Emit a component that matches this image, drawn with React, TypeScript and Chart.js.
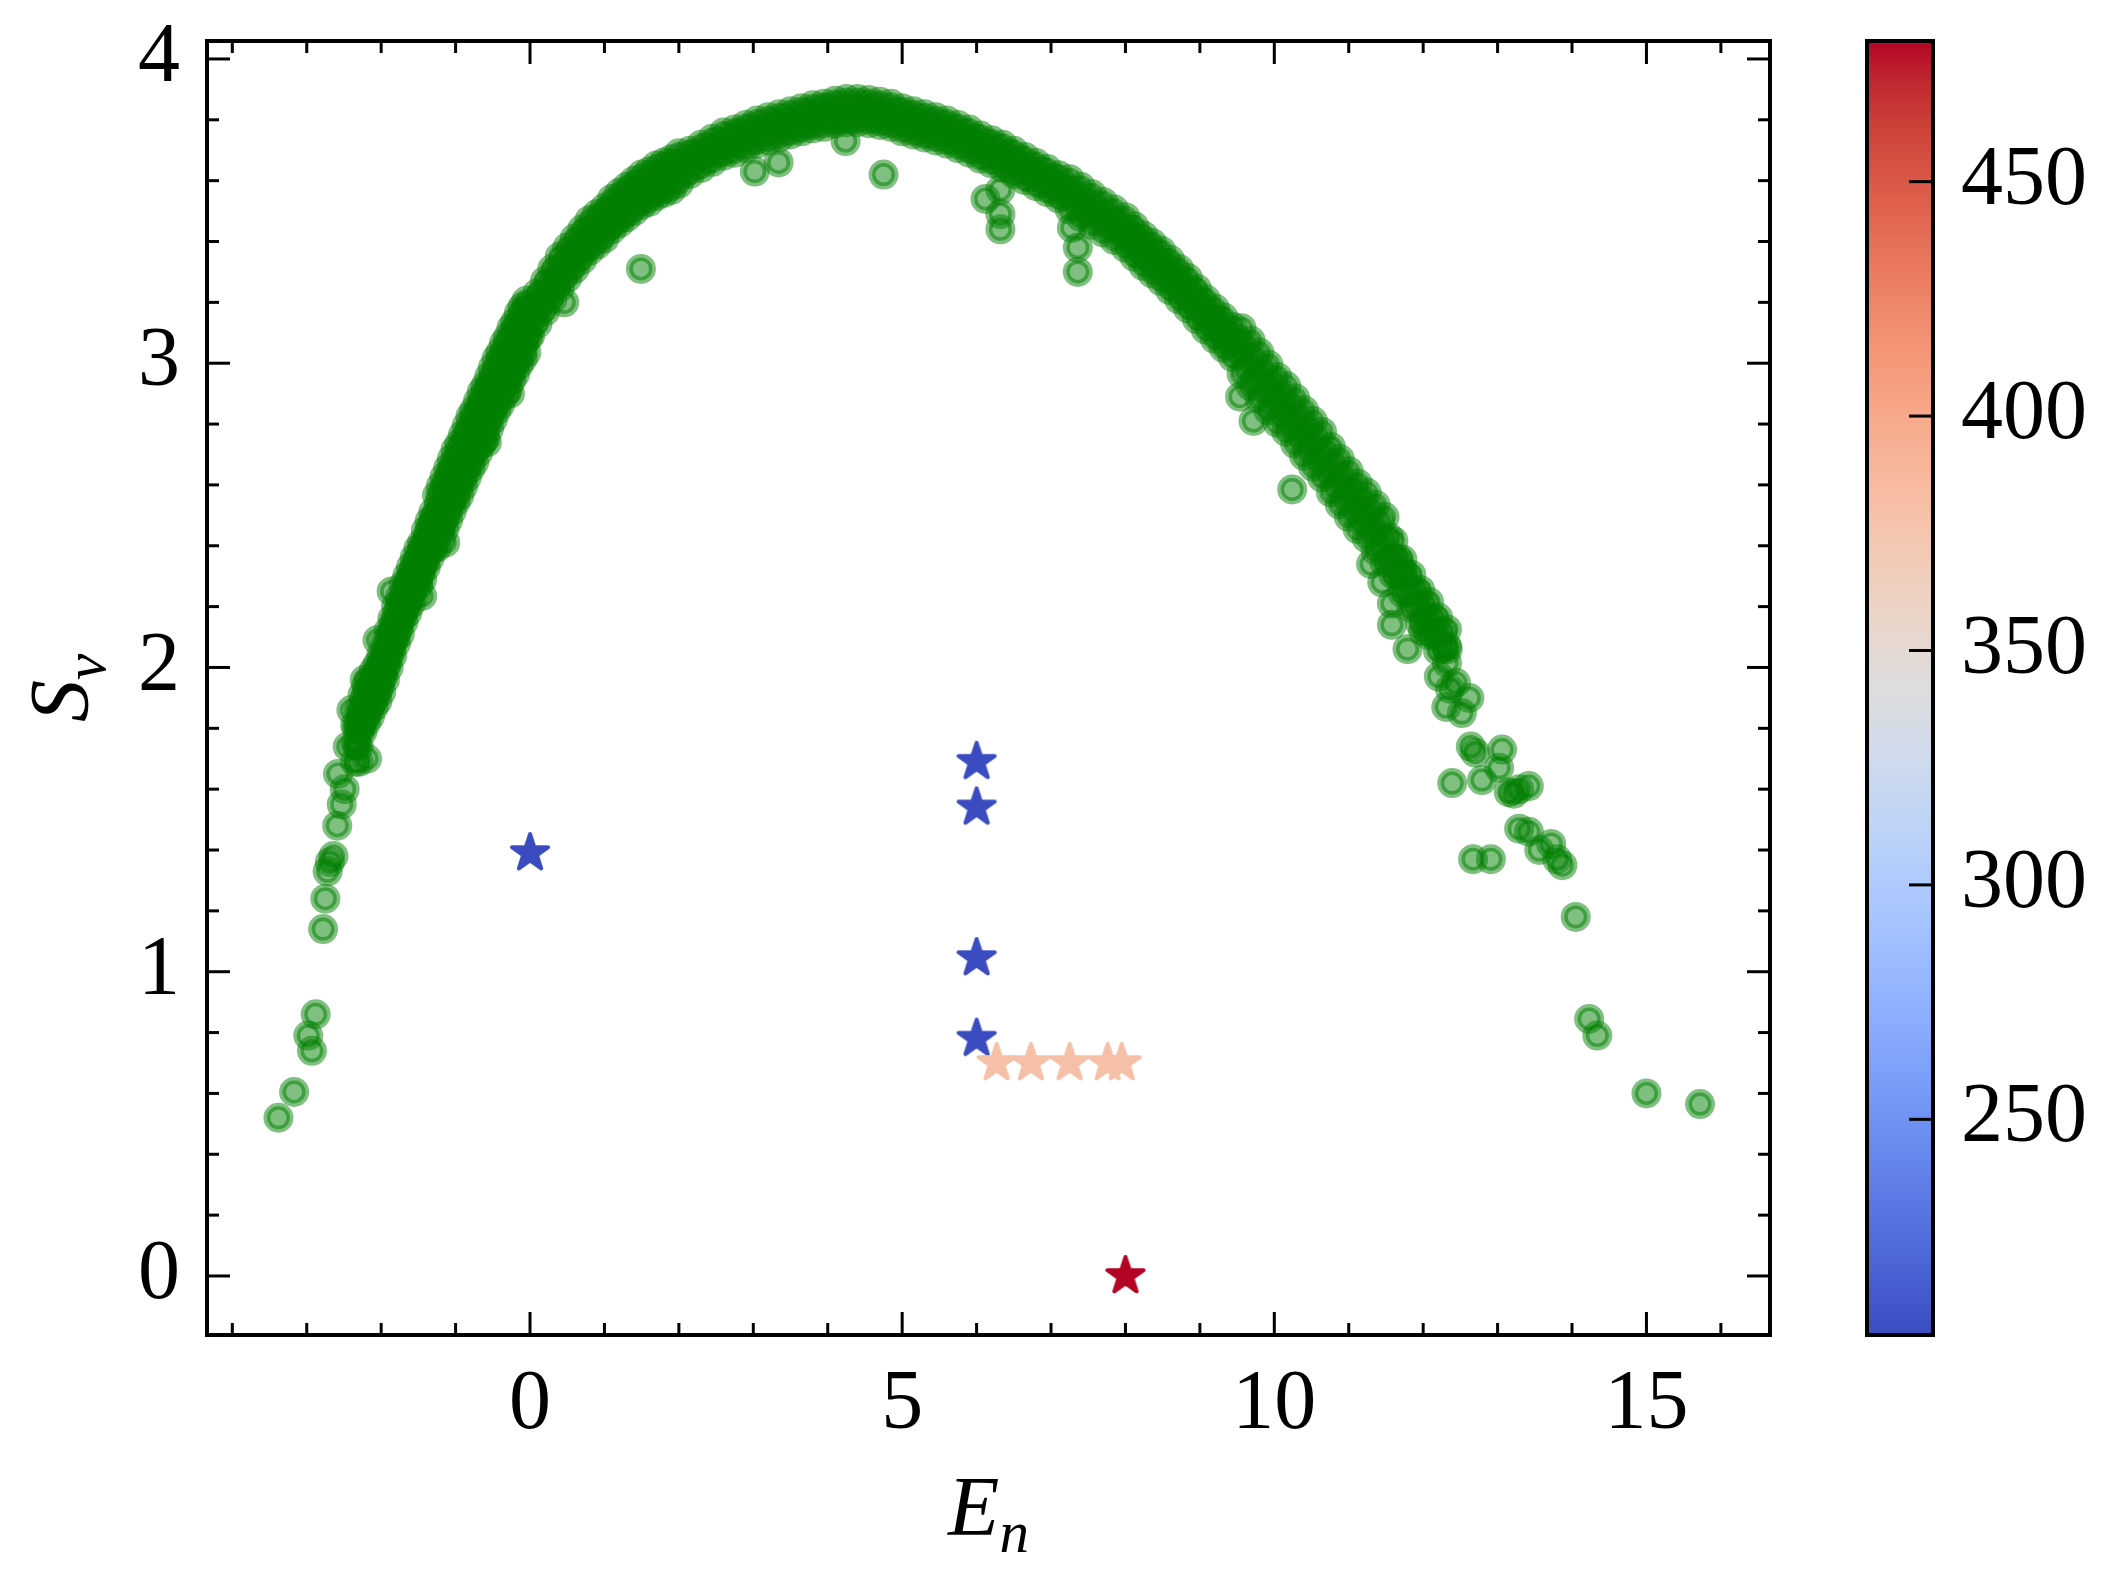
import { useEffect, useRef } from "react";
import { Chart, registerables } from "chart.js";

Chart.register(...registerables);

// axis ticks
const X_TICKS = [0, 5, 10, 15];
const Y_TICKS = [0, 1, 2, 3, 4];
const CB_TICKS = [250, 300, 350, 400, 450];

// dense band of (E_n, S_v) points: same E, an upper, middle and lower row
const BAND_E = [
  -2.35, -2.3, -2.25, -2.2, -2.15, -2.1, -2.05, -2.0, -1.95, -1.9, -1.85, -1.8, -1.75, -1.7, -1.65, -1.6, -1.55, -1.5, -1.45, -1.4, -1.35, -1.3,
  -1.25, -1.2, -1.15, -1.1, -1.05, -1.0, -0.95, -0.9, -0.85, -0.8, -0.75, -0.7, -0.65, -0.6, -0.55, -0.5, -0.45, -0.4, -0.35, -0.3, -0.25, -0.2, -0.15, -0.1, -0.05,
  0, 0.1, 0.2, 0.3, 0.4, 0.5, 0.6, 0.7, 0.8, 0.9, 1.0, 1.1, 1.2, 1.3, 1.4, 1.5, 1.6, 1.7, 1.8, 1.9, 2.0,
  2.15, 2.3, 2.45, 2.6, 2.75, 2.9, 3.05, 3.2, 3.35, 3.5, 3.65, 3.8, 3.95, 4.1, 4.25, 4.4, 4.55, 4.7, 4.85, 5.0, 5.15, 5.3, 5.45, 5.6, 5.75, 5.9, 6.05, 6.2, 6.35, 6.5, 6.65, 6.8, 6.95, 7.1,
  7.25, 7.4, 7.55, 7.7, 7.85, 8.0, 8.12, 8.24, 8.36, 8.48, 8.6, 8.72, 8.84, 8.96, 9.08, 9.2, 9.32, 9.44,
  9.56, 9.68, 9.8, 9.92, 10.04, 10.16, 10.28, 10.4, 10.52, 10.64, 10.76, 10.88, 11.0, 11.12, 11.24, 11.36, 11.48,
  11.6, 11.72, 11.84, 11.96, 12.08, 12.2, 12.32,
];
const BAND_S_UPPER = [
  1.81, 1.86, 1.91, 1.94, 1.96, 1.99, 2.01, 2.04, 2.08, 2.12, 2.16, 2.20, 2.23, 2.27, 2.30, 2.33, 2.36, 2.39, 2.41, 2.45, 2.48, 2.51,
  2.565, 2.595, 2.625, 2.655, 2.685, 2.715, 2.735, 2.765, 2.795, 2.825, 2.845, 2.875, 2.905, 2.925, 2.955, 2.985, 3.015, 3.035, 3.065, 3.085, 3.115, 3.135, 3.165, 3.185, 3.205,
  3.19, 3.23, 3.27, 3.31, 3.35, 3.38, 3.41, 3.44, 3.47, 3.49, 3.51, 3.54, 3.56, 3.58, 3.60, 3.62, 3.63, 3.65, 3.66, 3.67, 3.69,
  3.698, 3.718, 3.738, 3.758, 3.768, 3.783, 3.798, 3.808, 3.818, 3.828, 3.838, 3.848, 3.853, 3.863, 3.868, 3.868, 3.865, 3.859, 3.853, 3.838, 3.828, 3.818, 3.808, 3.798, 3.783, 3.768, 3.748, 3.733, 3.718, 3.698, 3.678, 3.658, 3.638, 3.618,
  3.605, 3.58, 3.555, 3.53, 3.505, 3.48, 3.45, 3.42, 3.395, 3.37, 3.34, 3.31, 3.28, 3.245, 3.21, 3.18, 3.15, 3.12,
  3.115, 3.075, 3.035, 2.995, 2.955, 2.925, 2.885, 2.845, 2.81, 2.775, 2.725, 2.685, 2.645, 2.605, 2.575, 2.535, 2.495,
  2.415, 2.355, 2.305, 2.255, 2.215, 2.165, 2.125,
];
const BAND_S_MID = [
  1.75, 1.80, 1.85, 1.88, 1.90, 1.93, 1.95, 1.98, 2.02, 2.06, 2.10, 2.14, 2.17, 2.21, 2.24, 2.27, 2.30, 2.33, 2.35, 2.39, 2.42, 2.45,
  2.48, 2.51, 2.54, 2.57, 2.60, 2.63, 2.65, 2.68, 2.71, 2.74, 2.76, 2.79, 2.82, 2.84, 2.87, 2.90, 2.93, 2.95, 2.98, 3.00, 3.03, 3.05, 3.08, 3.10, 3.12,
  3.14, 3.18, 3.22, 3.26, 3.30, 3.33, 3.36, 3.39, 3.42, 3.44, 3.46, 3.49, 3.51, 3.53, 3.55, 3.57, 3.58, 3.60, 3.61, 3.62, 3.64,
  3.66, 3.68, 3.70, 3.72, 3.73, 3.745, 3.76, 3.77, 3.78, 3.79, 3.80, 3.81, 3.815, 3.825, 3.83, 3.83, 3.827, 3.821, 3.815, 3.80, 3.79, 3.78, 3.77, 3.76, 3.745, 3.73, 3.71, 3.695, 3.68, 3.66, 3.64, 3.62, 3.60, 3.58,
  3.555, 3.53, 3.505, 3.48, 3.455, 3.43, 3.40, 3.37, 3.345, 3.32, 3.29, 3.26, 3.23, 3.195, 3.16, 3.13, 3.10, 3.07,
  3.04, 3.00, 2.96, 2.92, 2.88, 2.85, 2.81, 2.77, 2.735, 2.70, 2.65, 2.61, 2.57, 2.53, 2.50, 2.46, 2.42,
  2.36, 2.30, 2.25, 2.20, 2.16, 2.11, 2.07,
];
const BAND_S_LOWER = [
  1.69, 1.74, 1.79, 1.82, 1.84, 1.87, 1.89, 1.92, 1.96, 2.00, 2.04, 2.08, 2.11, 2.15, 2.18, 2.21, 2.24, 2.27, 2.29, 2.33, 2.36, 2.39,
  2.395, 2.425, 2.455, 2.485, 2.515, 2.545, 2.565, 2.595, 2.625, 2.655, 2.675, 2.705, 2.735, 2.755, 2.785, 2.815, 2.845, 2.865, 2.895, 2.915, 2.945, 2.965, 2.995, 3.015, 3.035,
  3.09, 3.13, 3.17, 3.21, 3.25, 3.28, 3.31, 3.34, 3.37, 3.39, 3.41, 3.44, 3.46, 3.48, 3.50, 3.52, 3.53, 3.55, 3.56, 3.57, 3.59,
  3.622, 3.642, 3.662, 3.682, 3.692, 3.707, 3.722, 3.732, 3.742, 3.752, 3.762, 3.772, 3.777, 3.787, 3.792, 3.792, 3.789, 3.783, 3.777, 3.762, 3.752, 3.742, 3.732, 3.722, 3.707, 3.692, 3.672, 3.657, 3.642, 3.622, 3.602, 3.582, 3.562, 3.542,
  3.505, 3.48, 3.455, 3.43, 3.405, 3.38, 3.35, 3.32, 3.295, 3.27, 3.24, 3.21, 3.18, 3.145, 3.11, 3.08, 3.05, 3.02,
  2.965, 2.925, 2.885, 2.845, 2.805, 2.775, 2.735, 2.695, 2.66, 2.625, 2.575, 2.535, 2.495, 2.455, 2.425, 2.385, 2.345,
  2.305, 2.245, 2.195, 2.145, 2.105, 2.055, 2.015,
];

// second, staggered set of band points between the first ones
const BAND_E_HALF = [
  -2.325, -2.275, -2.225, -2.175, -2.125, -2.075, -2.025, -1.975, -1.925, -1.875, -1.825, -1.775, -1.725, -1.675, -1.625, -1.575, -1.525, -1.475, -1.425, -1.375, -1.325, -1.275,
  -1.225, -1.175, -1.125, -1.075, -1.025, -0.975, -0.925, -0.875, -0.825, -0.775, -0.725, -0.675, -0.625, -0.575, -0.525, -0.475, -0.425, -0.375, -0.325, -0.275, -0.225, -0.175, -0.125, -0.075, -0.025,
  0.05, 0.15, 0.25, 0.35, 0.45, 0.55, 0.65, 0.75, 0.85, 0.95, 1.05, 1.15, 1.25, 1.35, 1.45, 1.55, 1.65, 1.75, 1.85, 1.95, 2.075,
  2.225, 2.375, 2.525, 2.675, 2.825, 2.975, 3.125, 3.275, 3.425, 3.575, 3.725, 3.875, 4.025, 4.175, 4.325, 4.475, 4.625, 4.775, 4.925, 5.075, 5.225, 5.375, 5.525, 5.675, 5.825, 5.975, 6.125, 6.275, 6.425, 6.575, 6.725, 6.875, 7.025, 7.175,
  7.325, 7.475, 7.625, 7.775, 7.925, 8.06, 8.18, 8.30, 8.42, 8.54, 8.66, 8.78, 8.90, 9.02, 9.14, 9.26, 9.38, 9.50,
  9.62, 9.74, 9.86, 9.98, 10.10, 10.22, 10.34, 10.46, 10.58, 10.70, 10.82, 10.94, 11.06, 11.18, 11.30, 11.42, 11.54,
  11.66, 11.78, 11.90, 12.02, 12.14, 12.26,
];
const BAND_S_HALF_UPPER = [
  1.805, 1.855, 1.895, 1.92, 1.945, 1.97, 1.995, 2.03, 2.07, 2.11, 2.15, 2.185, 2.22, 2.255, 2.285, 2.315, 2.345, 2.37, 2.40, 2.435, 2.465, 2.495,
  2.538, 2.568, 2.598, 2.628, 2.658, 2.683, 2.708, 2.738, 2.768, 2.793, 2.818, 2.848, 2.873, 2.898, 2.928, 2.958, 2.983, 3.008, 3.033, 3.058, 3.083, 3.108, 3.133, 3.153, 3.173,
  3.185, 3.225, 3.265, 3.305, 3.34, 3.37, 3.40, 3.43, 3.455, 3.475, 3.50, 3.525, 3.545, 3.565, 3.585, 3.60, 3.615, 3.63, 3.64, 3.655, 3.675,
  3.689, 3.709, 3.729, 3.744, 3.757, 3.772, 3.784, 3.794, 3.804, 3.814, 3.824, 3.832, 3.839, 3.847, 3.849, 3.848, 3.843, 3.837, 3.827, 3.814, 3.804, 3.794, 3.784, 3.772, 3.757, 3.739, 3.722, 3.707, 3.689, 3.669, 3.649, 3.629, 3.609, 3.587,
  3.568, 3.543, 3.518, 3.493, 3.468, 3.44, 3.41, 3.383, 3.358, 3.33, 3.30, 3.27, 3.238, 3.203, 3.17, 3.14, 3.11, 3.08,
  3.058, 3.018, 2.978, 2.938, 2.903, 2.868, 2.828, 2.791, 2.756, 2.713, 2.668, 2.628, 2.588, 2.553, 2.518, 2.478, 2.428,
  2.358, 2.303, 2.253, 2.208, 2.163, 2.118,
];
const BAND_S_HALF_LOWER = [
  1.745, 1.795, 1.835, 1.86, 1.885, 1.91, 1.935, 1.97, 2.01, 2.05, 2.09, 2.125, 2.16, 2.195, 2.225, 2.255, 2.285, 2.31, 2.34, 2.375, 2.405, 2.435,
  2.452, 2.482, 2.512, 2.542, 2.572, 2.597, 2.622, 2.652, 2.682, 2.707, 2.732, 2.762, 2.787, 2.812, 2.842, 2.872, 2.897, 2.922, 2.947, 2.972, 2.997, 3.022, 3.047, 3.067, 3.087,
  3.135, 3.175, 3.215, 3.255, 3.29, 3.32, 3.35, 3.38, 3.405, 3.425, 3.45, 3.475, 3.495, 3.515, 3.535, 3.55, 3.565, 3.58, 3.59, 3.605, 3.625,
  3.651, 3.671, 3.691, 3.706, 3.719, 3.734, 3.746, 3.756, 3.766, 3.776, 3.786, 3.794, 3.801, 3.809, 3.811, 3.81, 3.805, 3.799, 3.789, 3.776, 3.766, 3.756, 3.746, 3.734, 3.719, 3.701, 3.684, 3.669, 3.651, 3.631, 3.611, 3.591, 3.571, 3.549,
  3.518, 3.493, 3.468, 3.443, 3.418, 3.39, 3.36, 3.333, 3.308, 3.28, 3.25, 3.22, 3.188, 3.153, 3.12, 3.09, 3.06, 3.03,
  2.982, 2.942, 2.902, 2.862, 2.827, 2.792, 2.752, 2.715, 2.68, 2.637, 2.592, 2.552, 2.512, 2.477, 2.442, 2.402, 2.352,
  2.302, 2.247, 2.197, 2.152, 2.107, 2.062,
];

// scattered points off the band
const SCATTER_E = [
  -3.38, -3.17, -2.98, -2.93, -2.88, -2.78, -2.75, -2.72, -2.69, -2.64, -2.59, -2.53, -2.49, -2.58, -2.30, -2.19, -2.45, -2.40, -2.22, -2.05, -1.86, -1.45, -1.14, -0.58, -0.27, 0.46,
  1.49, 3.02, 3.34, 4.75, 4.24,
  6.12, 6.32, 6.32, 6.32, 7.28, 7.36, 7.36,
  9.54, 9.72, 10.24, 11.30, 11.45, 11.58, 11.58, 11.79, 11.72,
  12.00, 12.33, 12.21, 12.44, 12.36, 12.31, 12.52, 12.62,
  12.39, 12.64, 12.70, 12.79, 13.02, 13.06,
  13.15, 13.22, 13.29, 13.42,
  13.29, 13.42, 13.56, 13.72, 13.80, 13.87,
  12.67, 12.91,
  14.05, 14.23, 14.34,
  15.00, 15.72,
];
const SCATTER_S = [
  0.52, 0.605, 0.79, 0.74, 0.86, 1.14, 1.24, 1.33, 1.36, 1.38, 1.48, 1.55, 1.60, 1.65, 1.69, 1.70, 1.74, 1.86, 1.96, 2.09, 2.25, 2.235, 2.41, 2.74, 2.90, 3.20,
  3.31, 3.63, 3.66, 3.62, 3.73,
  3.54, 3.57, 3.49, 3.44, 3.445, 3.38, 3.30,
  2.89, 2.81, 2.585, 2.34, 2.28, 2.21, 2.14, 2.06, 2.32,
  2.12, 2.06, 1.97, 1.95, 1.93, 1.87, 1.85, 1.90,
  1.62, 1.74, 1.72, 1.63, 1.67, 1.73,
  1.59, 1.585, 1.60, 1.61,
  1.47, 1.46, 1.40, 1.42, 1.37, 1.35,
  1.37, 1.37,
  1.18, 0.845, 0.79,
  0.60, 0.565,
];

// star markers, coloured by value
const STAR_E = [0, 6, 6, 6, 6, 6.27, 6.73, 7.25, 7.76, 7.95, 8.0];
const STAR_S = [1.39, 1.69, 1.54, 1.045, 0.78, 0.7, 0.7, 0.7, 0.7, 0.7, 0.0];
const STAR_T = [204, 204, 204, 204, 204, 380, 380, 380, 380, 380, 480];

const T_MIN = 204;
const T_MAX = 480;
const X_MIN = -4.34;
const X_MAX = 16.66;
const Y_MIN = -0.194;
const Y_MAX = 4.059;

const FONT = "'Liberation Serif', 'Times New Roman', serif";
const GREEN = "rgba(0,128,0,0.5)";

// matplotlib coolwarm
const COOLWARM: [number, number, number][] = [
  [59, 76, 192], [68, 90, 204], [77, 104, 215], [87, 117, 225], [98, 130, 234], [108, 142, 241],
  [119, 154, 247], [130, 165, 251], [141, 176, 254], [152, 185, 255], [163, 194, 255], [174, 201, 253],
  [184, 208, 249], [194, 213, 244], [204, 217, 238], [213, 219, 230], [221, 221, 221], [229, 216, 209],
  [236, 211, 197], [241, 204, 185], [245, 196, 173], [247, 187, 160], [247, 177, 148], [247, 166, 135],
  [244, 154, 123], [241, 141, 111], [236, 127, 99], [229, 112, 88], [222, 96, 77], [213, 80, 66],
  [203, 62, 56], [192, 40, 47], [180, 4, 38],
];

function coolwarm(t: number) {
  const f = Math.min(1, Math.max(0, t)) * (COOLWARM.length - 1);
  const i = Math.min(COOLWARM.length - 2, Math.floor(f));
  const k = f - i;
  const a = COOLWARM[i], b = COOLWARM[i + 1];
  const c = a.map((v, j) => Math.round(v + (b[j] - v) * k));
  return `rgb(${c[0]},${c[1]},${c[2]})`;
}

function starImage(color: string) {
  const c = document.createElement("canvas");
  c.width = 50;
  c.height = 50;
  const ctx = c.getContext("2d")!;
  ctx.translate(25, 25);
  ctx.beginPath();
  const R = 19, r = R * 0.382;
  for (let i = 0; i < 10; i++) {
    const rad = i % 2 === 0 ? R : r;
    const a = -Math.PI / 2 + (i * Math.PI) / 5;
    ctx.lineTo(rad * Math.cos(a), rad * Math.sin(a));
  }
  ctx.closePath();
  ctx.fillStyle = color;
  ctx.fill();
  ctx.lineJoin = "round";
  ctx.lineWidth = 4;
  ctx.strokeStyle = color;
  ctx.stroke();
  return c;
}

const decorations = {
  id: "decorations",
  afterDatasetsDraw(chart: any) {
    const { ctx, chartArea: a, scales } = chart;
    const xs = scales.x, ys = scales.y, cb = scales.cb;
    const MAJOR = 23, MINOR = 12;
    ctx.save();
    ctx.strokeStyle = "#000";
    ctx.lineCap = "butt";
    ctx.lineWidth = 3;
    const line = (x1: number, y1: number, x2: number, y2: number) => {
      ctx.beginPath();
      ctx.moveTo(x1, y1);
      ctx.lineTo(x2, y2);
      ctx.stroke();
    };
    // inward ticks on all four sides
    for (let v = Math.ceil(xs.min); v <= xs.max; v++) {
      const len = X_TICKS.includes(v) ? MAJOR : MINOR;
      const px = xs.getPixelForValue(v);
      line(px, a.bottom, px, a.bottom - len);
      line(px, a.top, px, a.top + len);
    }
    for (let k = Math.ceil(ys.min / 0.2); k * 0.2 <= ys.max; k++) {
      const len = k % 5 === 0 ? MAJOR : MINOR;
      const py = ys.getPixelForValue(k * 0.2);
      line(a.left, py, a.left + len, py);
      line(a.right, py, a.right - len, py);
    }
    ctx.lineWidth = 4;
    ctx.strokeRect(a.left, a.top, a.right - a.left, a.bottom - a.top);

    // colour bar
    const cL = a.right + 97, cW = 66;
    const grad = ctx.createLinearGradient(0, cb.bottom, 0, cb.top);
    COOLWARM.forEach((c, i) => grad.addColorStop(i / (COOLWARM.length - 1), `rgb(${c[0]},${c[1]},${c[2]})`));
    ctx.fillStyle = grad;
    ctx.fillRect(cL, cb.top, cW, cb.bottom - cb.top);
    ctx.lineWidth = 3;
    CB_TICKS.forEach((v) => {
      const py = cb.getPixelForValue(v);
      line(cL + cW, py, cL + cW - 24, py);
    });
    ctx.lineWidth = 4;
    ctx.strokeRect(cL, cb.top, cW, cb.bottom - cb.top);

    // axis titles with subscripts
    ctx.fillStyle = "#000";
    ctx.textBaseline = "alphabetic";
    ctx.textAlign = "left";
    const big = `italic 84px ${FONT}`, small = `italic 59px ${FONT}`;

    ctx.font = big;
    const wE = ctx.measureText("E").width;
    ctx.font = small;
    const wn = ctx.measureText("n").width;
    const ex = (a.left + a.right) / 2 - (wE + wn) / 2;
    ctx.font = big;
    ctx.fillText("E", ex, 1535);
    ctx.font = small;
    ctx.fillText("n", ex + wE, 1552);

    ctx.font = big;
    const wS = ctx.measureText("S").width;
    ctx.font = small;
    const wv = ctx.measureText("v").width;
    ctx.translate(88, (a.top + a.bottom) / 2);
    ctx.rotate(-Math.PI / 2);
    const sx = -(wS + wv) / 2;
    ctx.font = big;
    ctx.fillText("S", sx, 0);
    ctx.font = small;
    ctx.fillText("v", sx + wS, 17);
    ctx.restore();
  },
};

export default function App() {
  const canvasRef = useRef<HTMLCanvasElement>(null);
  const chartRef = useRef<Chart | null>(null);

  useEffect(() => {
    document.body.style.margin = "0";
    if (!canvasRef.current) return;
    chartRef.current?.destroy();

    const green = [
      ...BAND_E.map((e, i) => ({ x: e, y: BAND_S_UPPER[i] })),
      ...BAND_E.map((e, i) => ({ x: e, y: BAND_S_MID[i] })),
      ...BAND_E.map((e, i) => ({ x: e, y: BAND_S_LOWER[i] })),
      ...BAND_E_HALF.map((e, i) => ({ x: e, y: BAND_S_HALF_UPPER[i] })),
      ...BAND_E_HALF.map((e, i) => ({ x: e, y: BAND_S_HALF_LOWER[i] })),
      ...SCATTER_E.map((e, i) => ({ x: e, y: SCATTER_S[i] })),
    ];
    const stars = STAR_E.map((e, i) => ({ x: e, y: STAR_S[i] }));
    const starImgs = STAR_T.map((t) => starImage(coolwarm((t - T_MIN) / (T_MAX - T_MIN))));

    // small lineHeight keeps the scales from reserving extra room above the plot
    const tickFont = { family: FONT, size: 84, lineHeight: 0.2 };

    chartRef.current = new Chart(canvasRef.current, {
      type: "scatter",
      data: {
        datasets: [
          {
            data: green,
            pointStyle: "circle",
            pointRadius: 11.5,
            pointBorderWidth: 7,
            backgroundColor: GREEN,
            borderColor: GREEN,
          },
          {
            data: stars,
            pointStyle: (c: any) => starImgs[c.dataIndex],
            pointRadius: 20,
          },
        ],
      },
      options: {
        animation: false,
        responsive: false,
        devicePixelRatio: 1,
        events: [],
        layout: { padding: { top: 41, left: 0, right: 0, bottom: 0 } },
        plugins: { legend: { display: false }, tooltip: { enabled: false } },
        scales: {
          x: {
            type: "linear",
            position: "bottom",
            min: X_MIN,
            max: X_MAX,
            grid: { display: false, drawTicks: false, tickLength: 0 },
            border: { display: false },
            ticks: { font: tickFont, color: "#000", padding: 63, maxRotation: 0, autoSkip: false },
            afterBuildTicks: (s: any) => { s.ticks = X_TICKS.map((v) => ({ value: v })); },
            afterFit: (s: any) => { s.height = 240; },
          },
          y: {
            type: "linear",
            position: "left",
            min: Y_MIN,
            max: Y_MAX,
            grid: { display: false, drawTicks: true, tickLength: 27 },
            border: { display: false },
            ticks: { font: tickFont, color: "#000", padding: 0, autoSkip: false },
            afterBuildTicks: (s: any) => { s.ticks = Y_TICKS.map((v) => ({ value: v })); },
            afterFit: (s: any) => { s.width = 207; },
          },
          cb: {
            type: "linear",
            axis: "y",
            position: "right",
            min: T_MIN,
            max: T_MAX,
            grid: { display: false, drawTicks: true, tickLength: 191 },
            border: { display: false },
            ticks: { font: tickFont, color: "#000", padding: 0, autoSkip: false },
            afterBuildTicks: (s: any) => { s.ticks = CB_TICKS.map((v) => ({ value: v })); },
            afterFit: (s: any) => { s.width = 347; },
          },
        },
      },
      plugins: [decorations],
    } as any);

    return () => { chartRef.current?.destroy(); };
  }, []);

  return (
    <canvas
      ref={canvasRef}
      width={2117}
      height={1575}
      style={{ display: "block", width: 2117, height: 1575 }}
    />
  );
}
